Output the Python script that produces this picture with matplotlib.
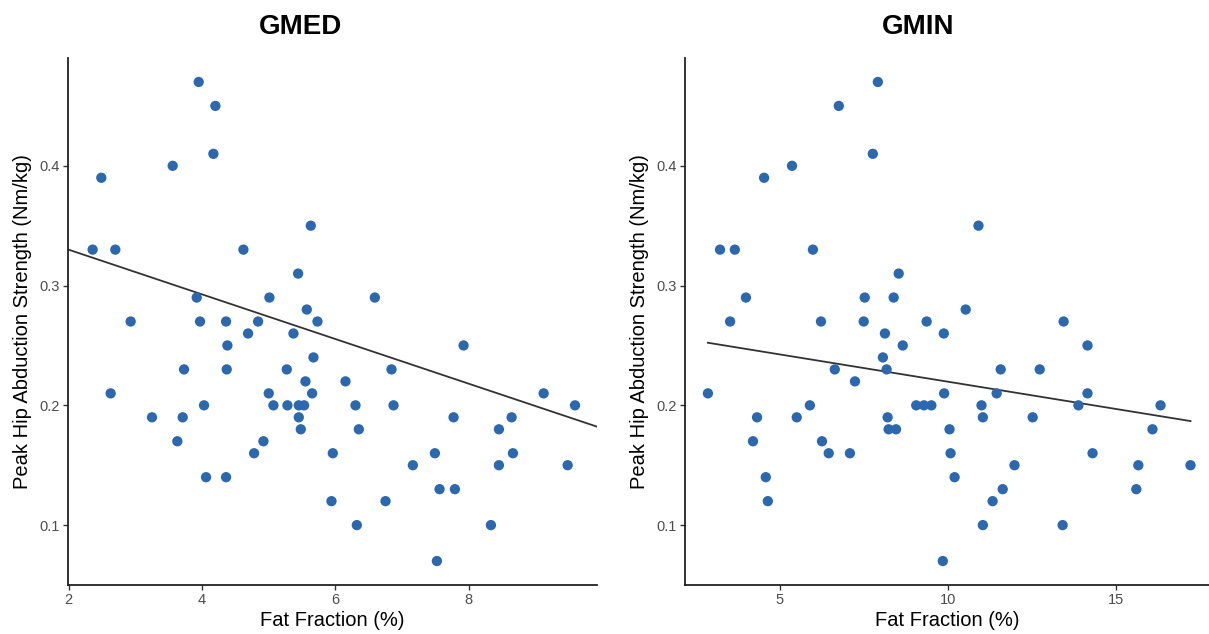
import numpy as np
import matplotlib
matplotlib.use("Agg")
from matplotlib import pyplot as plt

plt.rcParams['font.family'] = ['Liberation Sans', 'DejaVu Sans']

# GMED: fat fraction (%) vs peak hip abduction strength (Nm/kg)
gmed_fat = [2.36, 2.49, 2.70, 2.63, 2.93, 3.25, 3.56, 3.63, 3.73, 3.71,
            3.95, 3.92, 3.97, 4.03, 4.06, 4.17, 4.20, 4.36, 4.38, 4.37,
            4.36, 4.62, 4.69, 4.84, 4.78, 4.92, 5.01, 5.00, 5.07, 5.27,
            5.28, 5.37, 5.44, 5.45, 5.45, 5.48, 5.53, 5.55, 5.57, 5.65,
            5.67, 5.63, 5.73, 5.96, 6.15, 6.30, 6.35, 5.94, 6.32, 6.59,
            6.84, 6.87, 6.75, 7.16, 7.49, 7.52, 7.56, 7.79, 7.77, 7.92,
            8.33, 8.45, 8.45, 8.64, 8.66, 9.12, 9.48, 9.59]
gmed_str = [0.33, 0.39, 0.33, 0.21, 0.27, 0.19, 0.40, 0.17, 0.23, 0.19,
            0.47, 0.29, 0.27, 0.20, 0.14, 0.41, 0.45, 0.27, 0.25, 0.23,
            0.14, 0.33, 0.26, 0.27, 0.16, 0.17, 0.29, 0.21, 0.20, 0.23,
            0.20, 0.26, 0.31, 0.20, 0.19, 0.18, 0.20, 0.22, 0.28, 0.21,
            0.24, 0.35, 0.27, 0.16, 0.22, 0.20, 0.18, 0.12, 0.10, 0.29,
            0.23, 0.20, 0.12, 0.15, 0.16, 0.07, 0.13, 0.13, 0.19, 0.25,
            0.10, 0.18, 0.15, 0.19, 0.16, 0.21, 0.15, 0.20]
# fitted trend line: intercept, slope
gmed_fit = [0.3673, -0.01866]

# GMIN: fat fraction (%) vs peak hip abduction strength (Nm/kg)
gmin_fat = [7.91, 6.75, 7.76, 5.36, 4.53, 3.22, 3.66, 5.98, 8.53, 3.99,
            7.52, 8.38, 3.52, 6.22, 7.49, 8.12, 8.65, 10.90, 10.52, 9.36,
            9.87, 13.43, 14.14, 2.86, 4.32, 4.20, 4.58, 4.64, 5.50, 5.89,
            6.25, 6.45, 6.63, 7.08, 7.23, 8.06, 8.17, 8.20, 8.23, 8.45,
            9.05, 9.28, 9.50, 11.56, 12.72, 9.88, 11.44, 14.14, 10.99, 13.87,
            16.31, 11.03, 12.51, 10.04, 16.07, 10.07, 14.29, 11.97, 15.65, 17.20,
            10.19, 11.62, 15.59, 11.32, 11.03, 13.40, 9.84]
gmin_str = [0.47, 0.45, 0.41, 0.40, 0.39, 0.33, 0.33, 0.33, 0.31, 0.29,
            0.29, 0.29, 0.27, 0.27, 0.27, 0.26, 0.25, 0.35, 0.28, 0.27,
            0.26, 0.27, 0.25, 0.21, 0.19, 0.17, 0.14, 0.12, 0.19, 0.20,
            0.17, 0.16, 0.23, 0.16, 0.22, 0.24, 0.23, 0.19, 0.18, 0.18,
            0.20, 0.20, 0.20, 0.23, 0.23, 0.21, 0.21, 0.21, 0.20, 0.20,
            0.20, 0.19, 0.19, 0.18, 0.18, 0.16, 0.16, 0.15, 0.15, 0.15,
            0.14, 0.13, 0.13, 0.12, 0.10, 0.10, 0.07]
gmin_fit = [0.2653, -0.00456]

point_color = "#2b68ae"
line_color = "#333333"
tick_color = "#4d4d4d"


def scatter_panel(ax, fat, strength, fit, title, title_x, xlim, xticks, full_range):
    fat = np.array(fat)
    strength = np.array(strength)
    ax.scatter(fat, strength, s=55, color=point_color, edgecolors="none", zorder=3)

    intercept, slope = fit
    if full_range:
        xs = np.array(xlim)
    else:
        xs = np.array([fat.min(), fat.max()])
    ax.plot(xs, intercept + slope * xs, color=line_color, lw=1.3, zorder=2)

    ax.set_xlim(xlim)
    ax.set_ylim(0.05, 0.49)
    ax.set_xticks(xticks)
    ax.set_yticks([0.1, 0.2, 0.3, 0.4])
    ax.set_yticklabels(["0.1", "0.2", "0.3", "0.4"])
    ax.set_title(title, x=title_x, fontsize=20, fontweight="bold", pad=17)
    ax.set_xlabel("Fat Fraction (%)", fontsize=14.5, labelpad=3)
    ax.set_ylabel("Peak Hip Abduction Strength (Nm/kg)", fontsize=14.5, labelpad=5)

    for side in ["top", "right"]:
        ax.spines[side].set_visible(False)
    for side in ["left", "bottom"]:
        ax.spines[side].set_linewidth(1.3)
        ax.spines[side].set_color("#222222")
    ax.tick_params(axis="both", length=3.5, width=1.0, color="#333333",
                   labelcolor=tick_color, labelsize=10.5, pad=2.5)


fig = plt.figure(figsize=(12.09, 6.34), dpi=100)
ax1 = fig.add_axes([0.0562, 0.0773, 0.4376, 0.8312])
ax2 = fig.add_axes([0.5666, 0.0773, 0.4334, 0.8312])

scatter_panel(ax1, gmed_fat, gmed_str, gmed_fit, "GMED", 0.439,
              (1.99, 9.92), [2, 4, 6, 8], True)
scatter_panel(ax2, gmin_fat, gmin_str, gmin_fit, "GMIN", 0.445,
              (2.18, 17.75), [5, 10, 15], False)

fig.savefig("out.png", dpi=100)
